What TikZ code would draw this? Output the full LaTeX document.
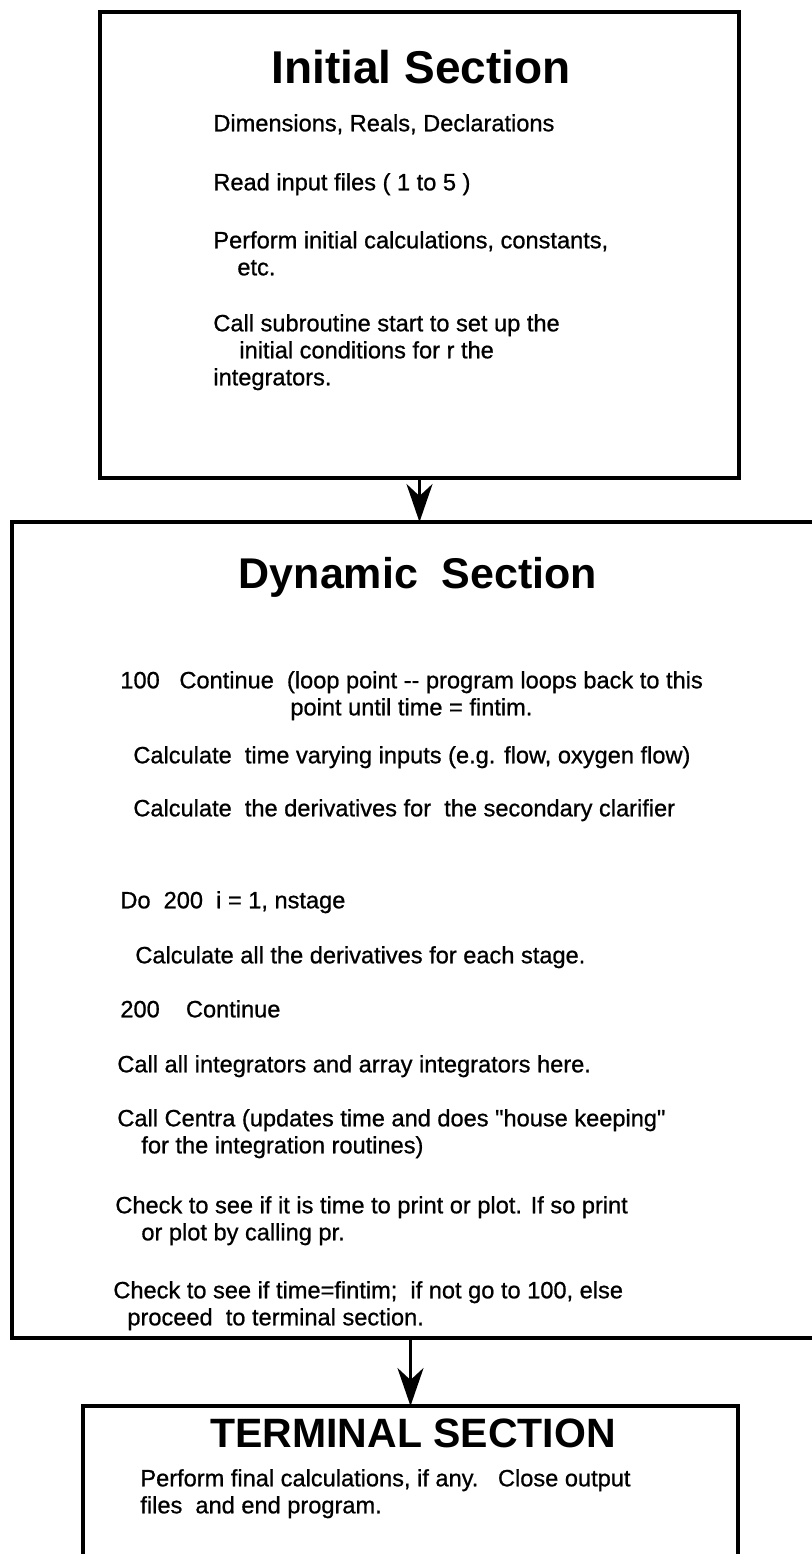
\documentclass[tikz,border=0pt]{standalone}
\usepackage{fontspec}
\setmainfont{Liberation Sans}[Ligatures=TeXOff]
\newfontfamily\bodyfont{Liberation Sans}[Ligatures=TeXOff, FakeBold=0.8]
\usepackage{tikz}
\usetikzlibrary{arrows.meta, positioning, calc}
\tikzset{
  sectionbox/.style={rectangle, draw, line width=1.7pt, inner sep=0pt, outer sep=0pt},
  secttitle/.style={font=\fontsize{20.5}{24}\selectfont\bfseries, inner sep=0pt},
  bodytext/.style={font=\bodyfont\fontsize{11.8}{13.5}\selectfont, align=left, anchor=north west, inner sep=0pt},
  arrow/.style={-{Stealth[length=19pt, width=13pt, inset=6pt]}, line width=1.7pt},
}

\begin{document}
\begin{tikzpicture}[x=0.5pt, y=-0.5pt]
\useasboundingbox (0,0) rectangle (812,1554);
\clip (0,0) rectangle (812,1554);

% Initial section
\node[sectionbox, minimum width=319.5pt, minimum height=233pt] (initbox) at (419.5,245) {};
\node[secttitle, font=\fontsize{23}{27}\selectfont\bfseries] (inittitle) at (421,67) {Initial Section};
\node[bodytext] (initdims) at (213,112) {\strut Dimensions, Reals, Declarations};
\node[bodytext] (initread) at (213,171) {\strut Read input files ( 1 to 5 )};
\node[bodytext] (initcalc) at (213,229) {\strut Perform initial calculations, constants,\\\hspace*{12pt}etc.};
\node[bodytext] (initstart) at (213,312) {\strut Call subroutine start to set up the\\\hspace*{13pt}initial conditions for r the\\integrators.};

% Dynamic section
\node[sectionbox, minimum width=414pt, minimum height=408pt] (dynbox) at (426,930) {};
\node[secttitle, font=\fontsize{21.5}{25}\selectfont\bfseries] (dyntitle) at (418,577) {Dynamic\ \ Section};
\node[bodytext] (dynloop) at (120,669) {\strut 100\ \ \ Continue\ \ (loop point -- program loops back to this\\\hspace*{85pt}point until time = fintim.};
\node[bodytext] (dyninputs) at (133,744) {\strut Calculate\ \ time varying inputs (e.g. flow, oxygen flow)};
\node[bodytext] (dynclar) at (133,797) {\strut Calculate\ \ the derivatives for\ \ the secondary clarifier};
\node[bodytext] (dyndo) at (120,889) {\strut Do\ \ 200\ \ i = 1, nstage};
\node[bodytext] (dynstage) at (135,944) {\strut Calculate all the derivatives for each stage.};
\node[bodytext] (dyncont) at (120,998) {\strut 200\ \ \ \ Continue};
\node[bodytext] (dynint) at (117,1053) {\strut Call all integrators and array integrators here.};
\node[bodytext] (dyncentra) at (117,1107) {\strut Call Centra (updates time and does "house keeping"\\\hspace*{12pt}for the integration routines)};
\node[bodytext] (dynprint) at (115,1194) {\strut Check to see if it is time to print or plot. If so print\\\hspace*{13pt}or plot by calling pr.};
\node[bodytext] (dyncheck) at (113,1279) {\strut Check to see if time=fintim;\ \ if not go to 100, else\\\hspace*{7pt}proceed\ \ to terminal section.};

% Terminal section
\node[sectionbox, minimum width=327.5pt, minimum height=92pt] (termbox) at (410.5,1498) {};
\node[secttitle] (termtitle) at (413,1433) {TERMINAL SECTION};
\node[bodytext] (termtext) at (140,1467) {\strut Perform final calculations, if any.\ \ \ Close output\\files\ \ and end program.};

% Arrows
\draw[arrow] (initbox.south) -- (initbox.south |- dynbox.north);
\draw[arrow] (dynbox.south -| termbox.north) -- (termbox.north);

\end{tikzpicture}
\end{document}
